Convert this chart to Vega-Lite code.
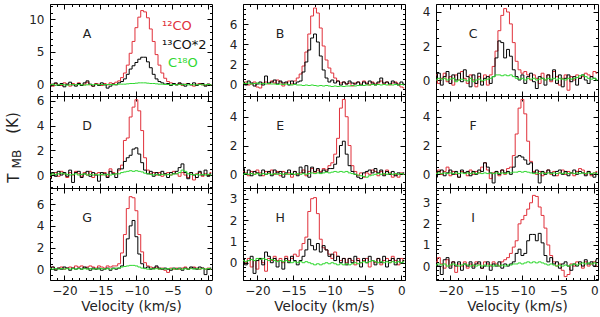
{
"$schema": "https://vega.github.io/schema/vega-lite/v6.json",
"background": "white",
"padding": {"left": 5, "top": 3, "right": 2, "bottom": 2},
"config": {"view": {"stroke": null}, "axis": {"grid": false, "domainColor": "#000", "tickColor": "#000", "domainWidth": 1, "tickWidth": 1, "labelFont": "DejaVu Sans", "labelFontSize": 12, "labelColor": "#222", "labelFlush": false, "labelOverlap": false, "titleFont": "DejaVu Sans", "titleFontSize": 13.5, "titleFontWeight": "normal", "titleColor": "#222", "titlePadding": 3}},
"datasets": {
"A": [
{"v":-22.0,"r":0.1,"b":-0.2,"g":0.0},{"v":-21.6,"r":-0.2,"b":0.1,"g":0.05},{"v":-21.2,"r":0.2,"b":0.3,"g":-0.05},{"v":-20.8,"r":0.0,"b":-0.1,"g":0.0},{"v":-20.4,"r":-0.1,"b":0.2,"g":0.05},{"v":-20.0,"r":0.3,"b":-0.3,"g":0.0},{"v":-19.6,"r":0.1,"b":0.1,"g":-0.05},{"v":-19.2,"r":-0.2,"b":0.4,"g":0.0},{"v":-18.8,"r":0.2,"b":0.0,"g":0.05},{"v":-18.4,"r":0.0,"b":-0.2,"g":0.0},{"v":-18.0,"r":0.3,"b":0.2,"g":0.05},{"v":-17.6,"r":-0.1,"b":-0.1,"g":0.0},{"v":-17.2,"r":0.1,"b":0.3,"g":-0.05},{"v":-16.8,"r":0.4,"b":0.6,"g":0.0},{"v":-16.4,"r":0.0,"b":0.1,"g":0.05},{"v":-16.0,"r":-0.2,"b":-0.2,"g":0.0},{"v":-15.6,"r":0.2,"b":0.1,"g":0.05},{"v":-15.2,"r":0.1,"b":-0.1,"g":0.0},{"v":-14.8,"r":-0.1,"b":0.3,"g":0.05},{"v":-14.4,"r":0.2,"b":0.0,"g":0.0},{"v":-14.0,"r":0.0,"b":-0.5,"g":0.05},{"v":-13.6,"r":0.3,"b":-0.2,"g":0.05},{"v":-13.2,"r":0.2,"b":0.1,"g":0.0},{"v":-12.8,"r":0.4,"b":0.0,"g":0.05},{"v":-12.4,"r":0.6,"b":0.3,"g":0.1},{"v":-12.0,"r":1.1,"b":0.5,"g":0.1},{"v":-11.6,"r":1.8,"b":0.9,"g":0.1},{"v":-11.2,"r":3.0,"b":1.6,"g":0.15},{"v":-10.8,"r":4.8,"b":2.4,"g":0.2},{"v":-10.4,"r":6.6,"b":2.9,"g":0.2},{"v":-10.0,"r":8.7,"b":3.4,"g":0.25},{"v":-9.6,"r":10.3,"b":3.9,"g":0.3},{"v":-9.2,"r":11.3,"b":4.2,"g":0.3},{"v":-8.8,"r":11.1,"b":4.2,"g":0.3},{"v":-8.4,"r":10.2,"b":3.5,"g":0.25},{"v":-8.0,"r":8.5,"b":2.6,"g":0.2},{"v":-7.6,"r":6.6,"b":1.6,"g":0.2},{"v":-7.2,"r":4.6,"b":0.9,"g":0.15},{"v":-6.8,"r":3.0,"b":0.5,"g":0.1},{"v":-6.4,"r":1.8,"b":0.3,"g":0.1},{"v":-6.0,"r":1.0,"b":0.1,"g":0.05},{"v":-5.6,"r":0.5,"b":0.2,"g":0.05},{"v":-5.2,"r":0.3,"b":-0.1,"g":0.0},{"v":-4.8,"r":0.2,"b":0.2,"g":0.05},{"v":-4.4,"r":0.0,"b":0.0,"g":0.0},{"v":-4.0,"r":0.2,"b":0.3,"g":0.05},{"v":-3.6,"r":-0.1,"b":0.1,"g":0.0},{"v":-3.2,"r":0.1,"b":-0.2,"g":0.05},{"v":-2.8,"r":0.2,"b":0.2,"g":0.0},{"v":-2.4,"r":0.0,"b":0.0,"g":0.05},{"v":-2.0,"r":-0.2,"b":0.3,"g":0.0},{"v":-1.6,"r":0.1,"b":-0.1,"g":0.0},{"v":-1.2,"r":0.2,"b":0.1,"g":0.05},{"v":-0.8,"r":0.0,"b":0.2,"g":0.0},{"v":-0.4,"r":-0.1,"b":-0.2,"g":0.0},{"v":0.0,"r":0.1,"b":0.1,"g":0.05},{"v":0.4,"r":0.0,"b":0.0,"g":0.0}
],
"B": [
{"v":-22.0,"r":0.1,"b":0.2,"g":0.1},{"v":-21.6,"r":0.2,"b":-0.1,"g":0.05},{"v":-21.2,"r":-0.1,"b":0.3,"g":0.1},{"v":-20.8,"r":0.0,"b":0.1,"g":0.0},{"v":-20.4,"r":0.2,"b":-0.2,"g":0.05},{"v":-20.0,"r":-0.3,"b":0.0,"g":0.1},{"v":-19.6,"r":-0.4,"b":0.2,"g":0.0},{"v":-19.2,"r":0.1,"b":-0.1,"g":0.05},{"v":-18.8,"r":0.2,"b":0.8,"g":0.0},{"v":-18.4,"r":0.0,"b":0.1,"g":0.05},{"v":-18.0,"r":0.3,"b":0.2,"g":0.0},{"v":-17.6,"r":0.1,"b":0.4,"g":0.0},{"v":-17.2,"r":0.4,"b":0.0,"g":-0.05},{"v":-16.8,"r":0.2,"b":0.3,"g":0.0},{"v":-16.4,"r":-0.2,"b":0.1,"g":-0.05},{"v":-16.0,"r":0.1,"b":0.2,"g":0.0},{"v":-15.6,"r":0.3,"b":-0.1,"g":-0.05},{"v":-15.2,"r":0.0,"b":0.3,"g":-0.1},{"v":-14.8,"r":0.3,"b":0.0,"g":-0.05},{"v":-14.4,"r":0.6,"b":0.2,"g":-0.1},{"v":-14.0,"r":1.0,"b":0.3,"g":-0.1},{"v":-13.6,"r":1.8,"b":1.2,"g":-0.15},{"v":-13.2,"r":3.2,"b":2.2,"g":-0.1},{"v":-12.8,"r":5.0,"b":3.4,"g":-0.15},{"v":-12.4,"r":6.8,"b":4.6,"g":-0.1},{"v":-12.0,"r":7.6,"b":5.0,"g":-0.15},{"v":-11.6,"r":7.1,"b":4.2,"g":-0.2},{"v":-11.2,"r":5.6,"b":2.8,"g":-0.15},{"v":-10.8,"r":3.8,"b":1.4,"g":-0.2},{"v":-10.4,"r":2.4,"b":0.6,"g":-0.15},{"v":-10.0,"r":1.6,"b":0.2,"g":-0.2},{"v":-9.6,"r":1.1,"b":0.4,"g":-0.25},{"v":-9.2,"r":0.6,"b":0.1,"g":-0.2},{"v":-8.8,"r":0.3,"b":0.3,"g":-0.25},{"v":-8.4,"r":0.1,"b":-0.1,"g":-0.2},{"v":-8.0,"r":0.2,"b":0.2,"g":-0.25},{"v":-7.6,"r":0.0,"b":0.0,"g":-0.2},{"v":-7.2,"r":0.1,"b":0.3,"g":-0.2},{"v":-6.8,"r":-0.2,"b":0.1,"g":-0.15},{"v":-6.4,"r":0.1,"b":0.0,"g":-0.2},{"v":-6.0,"r":0.2,"b":0.2,"g":-0.15},{"v":-5.6,"r":0.0,"b":-0.1,"g":-0.1},{"v":-5.2,"r":0.3,"b":0.2,"g":-0.15},{"v":-4.8,"r":0.1,"b":0.0,"g":-0.1},{"v":-4.4,"r":-0.1,"b":0.3,"g":-0.1},{"v":-4.0,"r":0.2,"b":0.1,"g":-0.05},{"v":-3.6,"r":0.0,"b":-0.1,"g":-0.1},{"v":-3.2,"r":0.1,"b":0.2,"g":-0.05},{"v":-2.8,"r":0.3,"b":0.6,"g":-0.1},{"v":-2.4,"r":0.0,"b":0.1,"g":-0.05},{"v":-2.0,"r":0.2,"b":0.2,"g":-0.1},{"v":-1.6,"r":-0.1,"b":0.0,"g":-0.05},{"v":-1.2,"r":0.1,"b":0.3,"g":-0.1},{"v":-0.8,"r":0.2,"b":0.1,"g":-0.05},{"v":-0.4,"r":0.0,"b":-0.1,"g":-0.1},{"v":0.0,"r":-0.3,"b":0.2,"g":-0.05},{"v":0.4,"r":-0.4,"b":0.0,"g":-0.1}
],
"C": [
{"v":-22.0,"r":0.3,"b":0.1,"g":0.0},{"v":-21.6,"r":-0.2,"b":0.4,"g":0.1},{"v":-21.2,"r":0.1,"b":-0.3,"g":0.05},{"v":-20.8,"r":0.4,"b":0.2,"g":0.1},{"v":-20.4,"r":-0.1,"b":0.5,"g":0.0},{"v":-20.0,"r":0.2,"b":-0.2,"g":0.05},{"v":-19.6,"r":-0.3,"b":0.3,"g":0.1},{"v":-19.2,"r":0.3,"b":0.0,"g":-0.1},{"v":-18.8,"r":0.0,"b":0.4,"g":0.0},{"v":-18.4,"r":0.5,"b":-0.1,"g":0.05},{"v":-18.0,"r":0.1,"b":0.6,"g":0.0},{"v":-17.6,"r":-0.2,"b":0.2,"g":-0.05},{"v":-17.2,"r":0.3,"b":-0.4,"g":0.1},{"v":-16.8,"r":0.0,"b":0.3,"g":-0.1},{"v":-16.4,"r":-0.4,"b":-0.2,"g":0.0},{"v":-16.0,"r":0.2,"b":0.4,"g":0.05},{"v":-15.6,"r":-0.1,"b":-0.3,"g":-0.05},{"v":-15.2,"r":0.3,"b":0.1,"g":0.0},{"v":-14.8,"r":-0.3,"b":0.2,"g":0.05},{"v":-14.4,"r":0.3,"b":-0.2,"g":0.1},{"v":-14.0,"r":0.8,"b":0.2,"g":0.2},{"v":-13.6,"r":1.7,"b":1.3,"g":0.3},{"v":-13.2,"r":2.9,"b":2.3,"g":0.3},{"v":-12.8,"r":3.8,"b":2.2,"g":0.25},{"v":-12.4,"r":4.2,"b":1.3,"g":0.3},{"v":-12.0,"r":4.0,"b":1.8,"g":0.25},{"v":-11.6,"r":3.3,"b":1.4,"g":0.3},{"v":-11.2,"r":2.2,"b":0.6,"g":0.2},{"v":-10.8,"r":1.1,"b":0.2,"g":0.1},{"v":-10.4,"r":0.6,"b":0.0,"g":0.05},{"v":-10.0,"r":0.4,"b":0.3,"g":0.1},{"v":-9.6,"r":0.5,"b":-0.2,"g":0.0},{"v":-9.2,"r":0.3,"b":0.2,"g":0.1},{"v":-8.8,"r":0.0,"b":0.4,"g":0.05},{"v":-8.4,"r":0.3,"b":-0.1,"g":0.1},{"v":-8.0,"r":0.1,"b":-0.5,"g":0.0},{"v":-7.6,"r":-0.2,"b":0.2,"g":0.05},{"v":-7.2,"r":0.4,"b":0.1,"g":0.1},{"v":-6.8,"r":0.0,"b":-0.3,"g":0.0},{"v":-6.4,"r":0.3,"b":0.3,"g":0.1},{"v":-6.0,"r":-0.1,"b":0.0,"g":0.05},{"v":-5.6,"r":0.5,"b":0.6,"g":0.1},{"v":-5.2,"r":0.2,"b":-0.2,"g":0.0},{"v":-4.8,"r":-0.3,"b":0.3,"g":0.1},{"v":-4.4,"r":0.1,"b":-0.4,"g":0.05},{"v":-4.0,"r":0.3,"b":0.1,"g":0.0},{"v":-3.6,"r":-0.6,"b":0.3,"g":0.1},{"v":-3.2,"r":0.2,"b":-0.1,"g":0.05},{"v":-2.8,"r":0.0,"b":0.2,"g":0.1},{"v":-2.4,"r":0.3,"b":-0.3,"g":0.15},{"v":-2.0,"r":0.1,"b":0.1,"g":0.25},{"v":-1.6,"r":0.2,"b":0.3,"g":0.3},{"v":-1.2,"r":0.4,"b":0.0,"g":0.2},{"v":-0.8,"r":0.3,"b":-0.2,"g":0.1},{"v":-0.4,"r":0.2,"b":0.2,"g":0.05},{"v":0.0,"r":0.5,"b":0.1,"g":0.1},{"v":0.4,"r":0.4,"b":0.0,"g":0.0}
],
"D": [
{"v":-22.0,"r":-0.2,"b":-0.3,"g":0.0},{"v":-21.6,"r":0.1,"b":0.2,"g":0.1},{"v":-21.2,"r":0.2,"b":-0.1,"g":0.05},{"v":-20.8,"r":-0.1,"b":0.3,"g":0.1},{"v":-20.4,"r":0.3,"b":0.0,"g":0.15},{"v":-20.0,"r":0.1,"b":0.2,"g":0.1},{"v":-19.6,"r":-0.2,"b":-0.1,"g":0.05},{"v":-19.2,"r":0.2,"b":0.4,"g":0.0},{"v":-18.8,"r":0.0,"b":-0.6,"g":0.05},{"v":-18.4,"r":0.3,"b":0.2,"g":0.1},{"v":-18.0,"r":0.1,"b":0.3,"g":0.0},{"v":-17.6,"r":-0.1,"b":-0.2,"g":0.05},{"v":-17.2,"r":0.2,"b":0.1,"g":0.1},{"v":-16.8,"r":0.0,"b":0.3,"g":0.0},{"v":-16.4,"r":0.3,"b":-0.1,"g":0.05},{"v":-16.0,"r":-0.2,"b":0.2,"g":0.0},{"v":-15.6,"r":0.1,"b":0.0,"g":0.05},{"v":-15.2,"r":0.2,"b":-0.5,"g":0.0},{"v":-14.8,"r":0.0,"b":0.2,"g":0.05},{"v":-14.4,"r":0.2,"b":0.1,"g":0.0},{"v":-14.0,"r":-0.1,"b":-0.2,"g":0.05},{"v":-13.6,"r":0.5,"b":0.3,"g":0.0},{"v":-13.2,"r":0.2,"b":0.1,"g":0.05},{"v":-12.8,"r":0.1,"b":-0.2,"g":0.1},{"v":-12.4,"r":0.4,"b":0.5,"g":0.1},{"v":-12.0,"r":0.8,"b":0.5,"g":0.2},{"v":-11.6,"r":2.8,"b":1.1,"g":0.25},{"v":-11.2,"r":3.0,"b":1.4,"g":0.3},{"v":-10.8,"r":4.7,"b":1.6,"g":0.35},{"v":-10.4,"r":5.5,"b":2.1,"g":0.3},{"v":-10.0,"r":6.1,"b":2.2,"g":0.35},{"v":-9.6,"r":5.2,"b":1.7,"g":0.3},{"v":-9.2,"r":3.6,"b":1.0,"g":0.25},{"v":-8.8,"r":1.4,"b":0.4,"g":0.15},{"v":-8.4,"r":0.4,"b":0.1,"g":0.1},{"v":-8.0,"r":0.1,"b":0.3,"g":0.05},{"v":-7.6,"r":0.2,"b":-0.1,"g":0.0},{"v":-7.2,"r":0.0,"b":0.2,"g":0.05},{"v":-6.8,"r":0.2,"b":0.0,"g":0.0},{"v":-6.4,"r":-0.1,"b":0.3,"g":0.05},{"v":-6.0,"r":0.1,"b":0.1,"g":0.0},{"v":-5.6,"r":0.2,"b":-0.2,"g":0.05},{"v":-5.2,"r":0.0,"b":0.2,"g":0.0},{"v":-4.8,"r":0.3,"b":0.1,"g":0.1},{"v":-4.4,"r":0.1,"b":0.3,"g":0.1},{"v":-4.0,"r":-0.1,"b":0.6,"g":0.2},{"v":-3.6,"r":0.2,"b":0.9,"g":0.4},{"v":-3.2,"r":0.0,"b":0.2,"g":0.3},{"v":-2.8,"r":-0.2,"b":-0.3,"g":0.1},{"v":-2.4,"r":0.2,"b":0.2,"g":0.05},{"v":-2.0,"r":-0.4,"b":0.0,"g":0.0},{"v":-1.6,"r":0.1,"b":-0.2,"g":0.05},{"v":-1.2,"r":0.2,"b":0.3,"g":0.0},{"v":-0.8,"r":-0.1,"b":0.0,"g":0.05},{"v":-0.4,"r":0.1,"b":0.4,"g":0.0},{"v":0.0,"r":0.0,"b":-0.1,"g":0.05},{"v":0.4,"r":0.2,"b":0.1,"g":0.0}
],
"E": [
{"v":-22.0,"r":0.2,"b":0.4,"g":0.0},{"v":-21.6,"r":0.1,"b":0.0,"g":0.05},{"v":-21.2,"r":-0.1,"b":0.3,"g":0.0},{"v":-20.8,"r":0.2,"b":-0.1,"g":0.05},{"v":-20.4,"r":0.0,"b":0.2,"g":0.0},{"v":-20.0,"r":0.3,"b":0.1,"g":0.05},{"v":-19.6,"r":0.1,"b":-0.1,"g":0.0},{"v":-19.2,"r":-0.1,"b":0.3,"g":0.05},{"v":-18.8,"r":0.2,"b":0.0,"g":0.0},{"v":-18.4,"r":0.1,"b":0.2,"g":0.05},{"v":-18.0,"r":0.3,"b":-0.1,"g":0.0},{"v":-17.6,"r":0.0,"b":0.3,"g":0.05},{"v":-17.2,"r":0.2,"b":0.1,"g":0.0},{"v":-16.8,"r":-0.1,"b":0.2,"g":0.05},{"v":-16.4,"r":0.2,"b":-0.2,"g":0.0},{"v":-16.0,"r":0.0,"b":0.1,"g":0.05},{"v":-15.6,"r":0.1,"b":0.3,"g":0.0},{"v":-15.2,"r":-0.2,"b":0.0,"g":0.05},{"v":-14.8,"r":0.2,"b":0.2,"g":0.0},{"v":-14.4,"r":0.0,"b":-0.1,"g":0.05},{"v":-14.0,"r":0.1,"b":0.5,"g":0.0},{"v":-13.6,"r":0.3,"b":0.1,"g":0.05},{"v":-13.2,"r":-0.1,"b":0.6,"g":0.0},{"v":-12.8,"r":0.2,"b":-0.2,"g":0.05},{"v":-12.4,"r":0.4,"b":0.5,"g":0.1},{"v":-12.0,"r":0.1,"b":0.2,"g":0.05},{"v":-11.6,"r":0.3,"b":0.4,"g":0.1},{"v":-11.2,"r":0.2,"b":0.1,"g":0.05},{"v":-10.8,"r":0.4,"b":0.3,"g":0.1},{"v":-10.4,"r":0.3,"b":0.2,"g":0.15},{"v":-10.0,"r":0.6,"b":0.4,"g":0.1},{"v":-9.6,"r":0.8,"b":0.4,"g":0.15},{"v":-9.2,"r":1.4,"b":0.7,"g":0.2},{"v":-8.8,"r":2.5,"b":1.2,"g":0.15},{"v":-8.4,"r":4.6,"b":2.0,"g":0.2},{"v":-8.0,"r":5.2,"b":2.3,"g":0.15},{"v":-7.6,"r":4.0,"b":1.4,"g":0.2},{"v":-7.2,"r":2.0,"b":0.6,"g":0.1},{"v":-6.8,"r":0.6,"b":0.2,"g":0.05},{"v":-6.4,"r":0.2,"b":0.0,"g":0.0},{"v":-6.0,"r":-0.1,"b":-0.2,"g":-0.05},{"v":-5.6,"r":0.1,"b":-0.3,"g":-0.1},{"v":-5.2,"r":-0.2,"b":0.1,"g":-0.15},{"v":-4.8,"r":0.1,"b":0.2,"g":-0.2},{"v":-4.4,"r":0.0,"b":0.3,"g":-0.1},{"v":-4.0,"r":0.3,"b":0.1,"g":-0.05},{"v":-3.6,"r":0.2,"b":0.4,"g":0.0},{"v":-3.2,"r":-0.1,"b":0.1,"g":0.05},{"v":-2.8,"r":0.2,"b":0.3,"g":0.0},{"v":-2.4,"r":0.0,"b":-0.1,"g":0.05},{"v":-2.0,"r":0.3,"b":0.2,"g":0.0},{"v":-1.6,"r":0.1,"b":0.0,"g":0.05},{"v":-1.2,"r":-0.2,"b":0.2,"g":0.0},{"v":-0.8,"r":0.0,"b":-0.1,"g":0.05},{"v":-0.4,"r":-0.2,"b":0.1,"g":0.0},{"v":0.0,"r":0.1,"b":0.0,"g":0.05},{"v":0.4,"r":0.0,"b":0.1,"g":0.0}
],
"F": [
{"v":-22.0,"r":0.1,"b":-0.2,"g":0.05},{"v":-21.6,"r":0.3,"b":0.2,"g":0.1},{"v":-21.2,"r":0.0,"b":0.3,"g":0.05},{"v":-20.8,"r":0.2,"b":-0.1,"g":0.1},{"v":-20.4,"r":0.5,"b":0.1,"g":0.05},{"v":-20.0,"r":-0.1,"b":0.3,"g":0.1},{"v":-19.6,"r":0.2,"b":0.0,"g":0.05},{"v":-19.2,"r":0.0,"b":0.2,"g":0.1},{"v":-18.8,"r":-0.2,"b":-0.2,"g":0.05},{"v":-18.4,"r":0.2,"b":0.3,"g":0.1},{"v":-18.0,"r":0.1,"b":0.1,"g":0.05},{"v":-17.6,"r":-0.1,"b":0.2,"g":0.1},{"v":-17.2,"r":0.3,"b":-0.1,"g":0.05},{"v":-16.8,"r":0.0,"b":0.2,"g":0.1},{"v":-16.4,"r":0.2,"b":0.0,"g":0.05},{"v":-16.0,"r":0.1,"b":0.3,"g":0.1},{"v":-15.6,"r":0.5,"b":0.2,"g":0.05},{"v":-15.2,"r":0.8,"b":0.8,"g":0.1},{"v":-14.8,"r":0.3,"b":0.5,"g":0.05},{"v":-14.4,"r":-0.3,"b":0.1,"g":0.1},{"v":-14.0,"r":0.1,"b":-0.6,"g":0.05},{"v":-13.6,"r":0.2,"b":0.2,"g":0.1},{"v":-13.2,"r":-0.1,"b":0.0,"g":0.05},{"v":-12.8,"r":0.3,"b":0.3,"g":0.1},{"v":-12.4,"r":0.0,"b":0.1,"g":0.05},{"v":-12.0,"r":0.4,"b":0.2,"g":0.1},{"v":-11.6,"r":0.5,"b":0.0,"g":0.1},{"v":-11.2,"r":1.3,"b":0.5,"g":0.15},{"v":-10.8,"r":2.8,"b":1.2,"g":0.15},{"v":-10.4,"r":4.6,"b":1.3,"g":0.2},{"v":-10.0,"r":5.2,"b":1.2,"g":0.15},{"v":-9.6,"r":4.2,"b":1.0,"g":0.2},{"v":-9.2,"r":2.3,"b":0.7,"g":0.15},{"v":-8.8,"r":0.9,"b":0.8,"g":0.1},{"v":-8.4,"r":0.2,"b":0.1,"g":0.05},{"v":-8.0,"r":0.0,"b":0.3,"g":0.1},{"v":-7.6,"r":0.2,"b":-0.6,"g":0.05},{"v":-7.2,"r":-0.1,"b":0.2,"g":0.1},{"v":-6.8,"r":0.1,"b":0.0,"g":0.05},{"v":-6.4,"r":0.3,"b":0.3,"g":0.1},{"v":-6.0,"r":0.0,"b":0.1,"g":0.05},{"v":-5.6,"r":0.2,"b":-0.1,"g":0.1},{"v":-5.2,"r":-0.1,"b":0.2,"g":0.05},{"v":-4.8,"r":0.1,"b":0.3,"g":0.1},{"v":-4.4,"r":0.3,"b":0.0,"g":0.05},{"v":-4.0,"r":0.0,"b":0.2,"g":0.1},{"v":-3.6,"r":0.2,"b":-0.1,"g":0.05},{"v":-3.2,"r":0.1,"b":0.1,"g":0.1},{"v":-2.8,"r":-0.1,"b":0.3,"g":0.05},{"v":-2.4,"r":0.2,"b":0.0,"g":0.1},{"v":-2.0,"r":0.4,"b":0.2,"g":0.05},{"v":-1.6,"r":0.3,"b":0.1,"g":0.1},{"v":-1.2,"r":0.0,"b":-0.1,"g":0.05},{"v":-0.8,"r":0.2,"b":0.2,"g":0.1},{"v":-0.4,"r":-0.1,"b":0.0,"g":0.05},{"v":0.0,"r":0.1,"b":-0.2,"g":0.1},{"v":0.4,"r":0.2,"b":0.1,"g":0.05}
],
"G": [
{"v":-22.0,"r":0.1,"b":0.0,"g":0.05},{"v":-21.6,"r":0.2,"b":0.2,"g":0.0},{"v":-21.2,"r":0.0,"b":-0.1,"g":0.05},{"v":-20.8,"r":0.1,"b":0.1,"g":0.0},{"v":-20.4,"r":0.2,"b":0.0,"g":0.05},{"v":-20.0,"r":0.0,"b":0.2,"g":0.0},{"v":-19.6,"r":0.1,"b":0.1,"g":0.05},{"v":-19.2,"r":0.2,"b":-0.1,"g":0.0},{"v":-18.8,"r":0.1,"b":0.1,"g":0.05},{"v":-18.4,"r":0.3,"b":0.0,"g":0.0},{"v":-18.0,"r":0.2,"b":0.1,"g":0.05},{"v":-17.6,"r":0.3,"b":0.0,"g":0.0},{"v":-17.2,"r":0.1,"b":0.2,"g":0.05},{"v":-16.8,"r":0.2,"b":0.1,"g":0.0},{"v":-16.4,"r":0.3,"b":-0.1,"g":0.05},{"v":-16.0,"r":0.2,"b":0.1,"g":0.0},{"v":-15.6,"r":0.1,"b":0.0,"g":0.05},{"v":-15.2,"r":0.3,"b":0.1,"g":0.0},{"v":-14.8,"r":0.2,"b":-0.1,"g":0.05},{"v":-14.4,"r":0.1,"b":0.0,"g":0.0},{"v":-14.0,"r":0.3,"b":0.1,"g":0.05},{"v":-13.6,"r":0.2,"b":-0.1,"g":0.0},{"v":-13.2,"r":0.3,"b":0.1,"g":0.05},{"v":-12.8,"r":0.3,"b":0.0,"g":0.1},{"v":-12.4,"r":0.5,"b":0.1,"g":0.1},{"v":-12.0,"r":1.5,"b":0.3,"g":0.2},{"v":-11.6,"r":3.2,"b":1.2,"g":0.25},{"v":-11.2,"r":5.6,"b":2.8,"g":0.3},{"v":-10.8,"r":6.7,"b":4.0,"g":0.35},{"v":-10.4,"r":6.6,"b":4.5,"g":0.35},{"v":-10.0,"r":5.4,"b":3.0,"g":0.3},{"v":-9.6,"r":3.2,"b":1.4,"g":0.2},{"v":-9.2,"r":1.6,"b":0.5,"g":0.1},{"v":-8.8,"r":0.6,"b":0.1,"g":0.05},{"v":-8.4,"r":0.3,"b":0.2,"g":0.0},{"v":-8.0,"r":0.2,"b":0.0,"g":0.05},{"v":-7.6,"r":0.1,"b":0.1,"g":0.0},{"v":-7.2,"r":0.2,"b":0.3,"g":0.05},{"v":-6.8,"r":0.0,"b":0.1,"g":0.0},{"v":-6.4,"r":0.1,"b":0.0,"g":0.05},{"v":-6.0,"r":-0.1,"b":0.1,"g":0.0},{"v":-5.6,"r":-0.3,"b":0.0,"g":0.05},{"v":-5.2,"r":0.1,"b":-0.1,"g":0.0},{"v":-4.8,"r":0.0,"b":0.1,"g":0.05},{"v":-4.4,"r":0.1,"b":0.0,"g":0.0},{"v":-4.0,"r":0.0,"b":0.1,"g":0.05},{"v":-3.6,"r":0.1,"b":-0.1,"g":0.0},{"v":-3.2,"r":0.2,"b":0.1,"g":0.05},{"v":-2.8,"r":0.0,"b":0.0,"g":0.0},{"v":-2.4,"r":0.1,"b":0.2,"g":0.05},{"v":-2.0,"r":0.2,"b":0.1,"g":0.0},{"v":-1.6,"r":0.1,"b":0.0,"g":0.05},{"v":-1.2,"r":0.0,"b":0.2,"g":0.0},{"v":-0.8,"r":0.1,"b":0.1,"g":0.05},{"v":-0.4,"r":0.0,"b":-0.5,"g":0.0},{"v":0.0,"r":0.1,"b":0.0,"g":0.05},{"v":0.4,"r":0.0,"b":0.1,"g":0.0}
],
"H": [
{"v":-22.0,"r":0.1,"b":0.2,"g":0.1},{"v":-21.6,"r":0.0,"b":-0.1,"g":0.05},{"v":-21.2,"r":0.2,"b":0.1,"g":0.1},{"v":-20.8,"r":-0.2,"b":0.3,"g":0.15},{"v":-20.4,"r":0.1,"b":-0.5,"g":0.1},{"v":-20.0,"r":-0.3,"b":0.1,"g":0.2},{"v":-19.6,"r":0.2,"b":0.2,"g":0.15},{"v":-19.2,"r":0.0,"b":-0.1,"g":0.2},{"v":-18.8,"r":-0.4,"b":0.5,"g":0.15},{"v":-18.4,"r":0.2,"b":0.3,"g":0.1},{"v":-18.0,"r":0.1,"b":0.0,"g":0.15},{"v":-17.6,"r":0.3,"b":0.2,"g":0.1},{"v":-17.2,"r":0.1,"b":-0.2,"g":0.05},{"v":-16.8,"r":0.2,"b":0.1,"g":0.1},{"v":-16.4,"r":0.0,"b":-0.3,"g":0.05},{"v":-16.0,"r":0.3,"b":0.2,"g":0.1},{"v":-15.6,"r":0.1,"b":0.0,"g":0.05},{"v":-15.2,"r":0.2,"b":0.3,"g":0.0},{"v":-14.8,"r":0.4,"b":0.1,"g":0.05},{"v":-14.4,"r":0.3,"b":-0.1,"g":0.0},{"v":-14.0,"r":0.6,"b":0.1,"g":0.05},{"v":-13.6,"r":0.9,"b":0.3,"g":0.0},{"v":-13.2,"r":1.2,"b":0.6,"g":0.05},{"v":-12.8,"r":2.4,"b":1.1,"g":0.0},{"v":-12.4,"r":3.0,"b":0.8,"g":-0.05},{"v":-12.0,"r":3.05,"b":0.6,"g":-0.1},{"v":-11.6,"r":2.3,"b":0.9,"g":-0.05},{"v":-11.2,"r":1.1,"b":0.5,"g":-0.1},{"v":-10.8,"r":0.7,"b":0.8,"g":-0.05},{"v":-10.4,"r":0.6,"b":0.6,"g":0.0},{"v":-10.0,"r":0.4,"b":0.3,"g":-0.05},{"v":-9.6,"r":0.2,"b":0.4,"g":0.0},{"v":-9.2,"r":0.5,"b":0.1,"g":-0.05},{"v":-8.8,"r":0.3,"b":0.3,"g":-0.1},{"v":-8.4,"r":0.1,"b":0.0,"g":-0.05},{"v":-8.0,"r":0.2,"b":0.2,"g":-0.1},{"v":-7.6,"r":0.0,"b":-0.1,"g":-0.05},{"v":-7.2,"r":0.2,"b":0.2,"g":-0.1},{"v":-6.8,"r":0.1,"b":0.0,"g":-0.05},{"v":-6.4,"r":-0.1,"b":0.3,"g":0.0},{"v":-6.0,"r":0.2,"b":0.1,"g":-0.05},{"v":-5.6,"r":0.0,"b":-0.2,"g":0.0},{"v":-5.2,"r":0.1,"b":0.2,"g":0.05},{"v":-4.8,"r":0.2,"b":0.0,"g":0.0},{"v":-4.4,"r":-0.2,"b":0.3,"g":0.05},{"v":-4.0,"r":0.1,"b":0.1,"g":0.1},{"v":-3.6,"r":0.0,"b":-0.1,"g":0.05},{"v":-3.2,"r":0.2,"b":0.2,"g":0.0},{"v":-2.8,"r":-0.1,"b":0.0,"g":0.05},{"v":-2.4,"r":0.1,"b":0.3,"g":0.0},{"v":-2.0,"r":0.2,"b":-0.2,"g":0.05},{"v":-1.6,"r":0.0,"b":0.1,"g":0.0},{"v":-1.2,"r":0.3,"b":0.2,"g":0.05},{"v":-0.8,"r":0.1,"b":-0.1,"g":0.0},{"v":-0.4,"r":-0.1,"b":0.2,"g":0.05},{"v":0.0,"r":0.2,"b":0.0,"g":0.0},{"v":0.4,"r":0.1,"b":0.1,"g":0.05}
],
"I": [
{"v":-22.0,"r":0.2,"b":0.1,"g":0.05},{"v":-21.6,"r":0.4,"b":0.0,"g":0.1},{"v":-21.2,"r":0.1,"b":-0.4,"g":0.05},{"v":-20.8,"r":-0.1,"b":0.3,"g":0.1},{"v":-20.4,"r":0.3,"b":0.4,"g":0.0},{"v":-20.0,"r":0.0,"b":-0.1,"g":0.05},{"v":-19.6,"r":0.2,"b":0.2,"g":0.1},{"v":-19.2,"r":-0.3,"b":0.0,"g":0.05},{"v":-18.8,"r":0.1,"b":0.2,"g":0.0},{"v":-18.4,"r":0.0,"b":-0.2,"g":0.05},{"v":-18.0,"r":0.2,"b":0.1,"g":0.1},{"v":-17.6,"r":-0.1,"b":0.0,"g":0.05},{"v":-17.2,"r":0.1,"b":0.2,"g":0.0},{"v":-16.8,"r":0.0,"b":-0.1,"g":0.05},{"v":-16.4,"r":0.2,"b":0.1,"g":0.0},{"v":-16.0,"r":0.1,"b":0.2,"g":0.05},{"v":-15.6,"r":-0.1,"b":-0.1,"g":0.0},{"v":-15.2,"r":0.2,"b":0.0,"g":0.05},{"v":-14.8,"r":0.1,"b":0.2,"g":0.0},{"v":-14.4,"r":0.0,"b":-0.2,"g":0.05},{"v":-14.0,"r":0.2,"b":0.1,"g":0.0},{"v":-13.6,"r":0.1,"b":0.0,"g":0.05},{"v":-13.2,"r":0.0,"b":0.2,"g":0.0},{"v":-12.8,"r":0.2,"b":-0.1,"g":0.05},{"v":-12.4,"r":0.3,"b":0.1,"g":0.0},{"v":-12.0,"r":0.4,"b":0.0,"g":0.05},{"v":-11.6,"r":0.6,"b":0.1,"g":0.05},{"v":-11.2,"r":0.9,"b":0.2,"g":0.1},{"v":-10.8,"r":1.2,"b":0.6,"g":0.1},{"v":-10.4,"r":2.0,"b":0.8,"g":0.15},{"v":-10.0,"r":2.2,"b":0.5,"g":0.1},{"v":-9.6,"r":2.4,"b":0.6,"g":0.15},{"v":-9.2,"r":2.7,"b":1.2,"g":0.2},{"v":-8.8,"r":3.0,"b":1.5,"g":0.15},{"v":-8.4,"r":3.35,"b":1.5,"g":0.2},{"v":-8.0,"r":3.3,"b":1.2,"g":0.15},{"v":-7.6,"r":2.8,"b":1.55,"g":0.2},{"v":-7.2,"r":2.4,"b":1.1,"g":0.15},{"v":-6.8,"r":1.8,"b":0.5,"g":0.1},{"v":-6.4,"r":1.0,"b":0.2,"g":0.05},{"v":-6.0,"r":0.5,"b":0.4,"g":0.1},{"v":-5.6,"r":0.2,"b":0.1,"g":0.05},{"v":-5.2,"r":0.0,"b":0.2,"g":0.0},{"v":-4.8,"r":0.1,"b":-0.1,"g":0.05},{"v":-4.4,"r":-0.2,"b":0.1,"g":0.0},{"v":-4.0,"r":-0.5,"b":0.2,"g":0.05},{"v":-3.6,"r":-0.4,"b":0.0,"g":0.0},{"v":-3.2,"r":0.1,"b":-0.2,"g":0.05},{"v":-2.8,"r":0.0,"b":0.1,"g":0.1},{"v":-2.4,"r":0.2,"b":0.0,"g":0.05},{"v":-2.0,"r":0.1,"b":0.2,"g":0.1},{"v":-1.6,"r":-0.1,"b":0.0,"g":0.15},{"v":-1.2,"r":0.2,"b":0.3,"g":0.1},{"v":-0.8,"r":0.0,"b":0.1,"g":0.15},{"v":-0.4,"r":0.1,"b":0.2,"g":0.1},{"v":0.0,"r":0.2,"b":0.0,"g":0.15},{"v":0.4,"r":0.0,"b":0.3,"g":0.1}
]
},
"columns": 3,
"spacing": {"row": 0, "column": 31},
"bounds": "flush",
"align": "all",
"concat": [
{"width": 162, "height": 92, "data": {"name": "A"},
 "layer": [
  {"mark": {"type": "line", "interpolate": "step", "color": "#e0303a", "strokeWidth": 1, "clip": true},
   "encoding": {"x": {"field": "v", "type": "quantitative", "scale": {"domain": [-22, 0.5], "nice": false, "zero": false}, "axis": {"orient": "bottom", "values": [-20,-15,-10,-5,0], "tickSize": -5, "labels": false, "title": null}},
    "y": {"field": "r", "type": "quantitative", "scale": {"domain": [-1.7, 12.3], "nice": false, "zero": false}, "axis": {"orient": "left", "values": [0,5,10], "tickSize": -5, "labelPadding": 11, "title": null}}}},
  {"mark": {"type": "line", "interpolate": "step", "color": "#000000", "strokeWidth": 1, "clip": true},
   "encoding": {"x": {"field": "v", "type": "quantitative", "scale": {"domain": [-22, 0.5], "nice": false, "zero": false}, "axis": {"orient": "bottom", "values": [-22,-21,-20,-19,-18,-17,-16,-15,-14,-13,-12,-11,-10,-9,-8,-7,-6,-5,-4,-3,-2,-1,0], "tickSize": -2.5, "labels": false, "domain": false, "title": null}},
    "y": {"field": "b", "type": "quantitative", "scale": {"domain": [-1.7, 12.3], "nice": false, "zero": false}, "axis": {"orient": "left", "values": [-1,0,1,2,3,4,5,6,7,8,9,10,11,12], "tickSize": -2.5, "labels": false, "domain": false, "title": null}}}},
  {"mark": {"type": "line", "interpolate": "step", "color": "#2fd82f", "strokeWidth": 1, "clip": true},
   "encoding": {"x": {"field": "v", "type": "quantitative", "scale": {"domain": [-22, 0.5], "nice": false, "zero": false}, "axis": {"orient": "top", "values": [-20,-15,-10,-5,0], "tickSize": -5, "labels": false, "title": null}},
    "y": {"field": "g", "type": "quantitative", "scale": {"domain": [-1.7, 12.3], "nice": false, "zero": false}, "axis": {"orient": "right", "values": [0,5,10], "tickSize": -5, "labels": false, "title": null}}}},
  {"data": {"values": [{}]}, "mark": {"type": "text", "font": "DejaVu Sans", "fontSize": 12.5, "color": "#222", "align": "center", "baseline": "middle"},
   "encoding": {"text": {"value": "A"}, "x": {"datum": -16.85, "type": "quantitative", "scale": {"domain": [-22, 0.5], "nice": false, "zero": false}, "axis": {"orient": "top", "values": [-22,-21,-20,-19,-18,-17,-16,-15,-14,-13,-12,-11,-10,-9,-8,-7,-6,-5,-4,-3,-2,-1,0], "tickSize": -2.5, "labels": false, "domain": false, "title": null}},
    "y": {"datum": 7.73, "type": "quantitative", "scale": {"domain": [-1.7, 12.3], "nice": false, "zero": false}, "axis": {"orient": "right", "values": [-1,0,1,2,3,4,5,6,7,8,9,10,11,12], "tickSize": -2.5, "labels": false, "domain": false, "title": null}}}},
  {"data": {"values": [{}]}, "mark": {"type": "text", "font": "DejaVu Sans", "fontSize": 13, "color": "#e0303a", "align": "left", "baseline": "alphabetic"},
   "encoding": {"text": {"value": "¹²CO"}, "x": {"datum": -6.44, "type": "quantitative", "scale": {"domain": [-22, 0.5], "nice": false, "zero": false}, "axis": null},
    "y": {"datum": 8.3, "type": "quantitative", "scale": {"domain": [-1.7, 12.3], "nice": false, "zero": false}, "axis": null}}},
  {"data": {"values": [{}]}, "mark": {"type": "text", "font": "DejaVu Sans", "fontSize": 13, "color": "#111", "align": "left", "baseline": "alphabetic"},
   "encoding": {"text": {"value": "¹³CO*2"}, "x": {"datum": -6.44, "type": "quantitative", "scale": {"domain": [-22, 0.5], "nice": false, "zero": false}, "axis": null},
    "y": {"datum": 5.41, "type": "quantitative", "scale": {"domain": [-1.7, 12.3], "nice": false, "zero": false}, "axis": null}}},
  {"data": {"values": [{}]}, "mark": {"type": "text", "font": "DejaVu Sans", "fontSize": 13, "color": "#2fd82f", "align": "left", "baseline": "alphabetic"},
   "encoding": {"text": {"value": "C¹⁸O"}, "x": {"datum": -5.6, "type": "quantitative", "scale": {"domain": [-22, 0.5], "nice": false, "zero": false}, "axis": null},
    "y": {"datum": 2.76, "type": "quantitative", "scale": {"domain": [-1.7, 12.3], "nice": false, "zero": false}, "axis": null}}}
 ],
 "resolve": {"axis": {"x": "independent", "y": "independent"}}
},
{"width": 162, "height": 92, "data": {"name": "B"},
 "layer": [
  {"mark": {"type": "line", "interpolate": "step", "color": "#e0303a", "strokeWidth": 1, "clip": true},
   "encoding": {"x": {"field": "v", "type": "quantitative", "scale": {"domain": [-22, 0.5], "nice": false, "zero": false}, "axis": {"orient": "bottom", "values": [-20,-15,-10,-5,0], "tickSize": -5, "labels": false, "title": null}},
    "y": {"field": "r", "type": "quantitative", "scale": {"domain": [-1.2, 8.0], "nice": false, "zero": false}, "axis": {"orient": "left", "values": [0,2,4,6], "tickSize": -5, "labelPadding": 11, "title": null}}}},
  {"mark": {"type": "line", "interpolate": "step", "color": "#000000", "strokeWidth": 1, "clip": true},
   "encoding": {"x": {"field": "v", "type": "quantitative", "scale": {"domain": [-22, 0.5], "nice": false, "zero": false}, "axis": {"orient": "bottom", "values": [-22,-21,-20,-19,-18,-17,-16,-15,-14,-13,-12,-11,-10,-9,-8,-7,-6,-5,-4,-3,-2,-1,0], "tickSize": -2.5, "labels": false, "domain": false, "title": null}},
    "y": {"field": "b", "type": "quantitative", "scale": {"domain": [-1.2, 8.0], "nice": false, "zero": false}, "axis": {"orient": "left", "values": [-1,-0.5,0,0.5,1,1.5,2,2.5,3,3.5,4,4.5,5,5.5,6,6.5,7,7.5], "tickSize": -2.5, "labels": false, "domain": false, "title": null}}}},
  {"mark": {"type": "line", "interpolate": "step", "color": "#2fd82f", "strokeWidth": 1, "clip": true},
   "encoding": {"x": {"field": "v", "type": "quantitative", "scale": {"domain": [-22, 0.5], "nice": false, "zero": false}, "axis": {"orient": "top", "values": [-20,-15,-10,-5,0], "tickSize": -5, "labels": false, "title": null}},
    "y": {"field": "g", "type": "quantitative", "scale": {"domain": [-1.2, 8.0], "nice": false, "zero": false}, "axis": {"orient": "right", "values": [0,2,4,6], "tickSize": -5, "labels": false, "title": null}}}},
  {"data": {"values": [{}]}, "mark": {"type": "text", "font": "DejaVu Sans", "fontSize": 12.5, "color": "#222", "align": "center", "baseline": "middle"},
   "encoding": {"text": {"value": "B"}, "x": {"datum": -16.85, "type": "quantitative", "scale": {"domain": [-22, 0.5], "nice": false, "zero": false}, "axis": {"orient": "top", "values": [-22,-21,-20,-19,-18,-17,-16,-15,-14,-13,-12,-11,-10,-9,-8,-7,-6,-5,-4,-3,-2,-1,0], "tickSize": -2.5, "labels": false, "domain": false, "title": null}},
    "y": {"datum": 5.0, "type": "quantitative", "scale": {"domain": [-1.2, 8.0], "nice": false, "zero": false}, "axis": {"orient": "right", "values": [-1,-0.5,0,0.5,1,1.5,2,2.5,3,3.5,4,4.5,5,5.5,6,6.5,7,7.5], "tickSize": -2.5, "labels": false, "domain": false, "title": null}}}}
 ],
 "resolve": {"axis": {"x": "independent", "y": "independent"}}
},
{"width": 162, "height": 92, "data": {"name": "C"},
 "layer": [
  {"mark": {"type": "line", "interpolate": "step", "color": "#e0303a", "strokeWidth": 1, "clip": true},
   "encoding": {"x": {"field": "v", "type": "quantitative", "scale": {"domain": [-22, 0.5], "nice": false, "zero": false}, "axis": {"orient": "bottom", "values": [-20,-15,-10,-5,0], "tickSize": -5, "labels": false, "title": null}},
    "y": {"field": "r", "type": "quantitative", "scale": {"domain": [-0.94, 4.47], "nice": false, "zero": false}, "axis": {"orient": "left", "values": [0,2,4], "tickSize": -5, "labelPadding": 11, "title": null}}}},
  {"mark": {"type": "line", "interpolate": "step", "color": "#000000", "strokeWidth": 1, "clip": true},
   "encoding": {"x": {"field": "v", "type": "quantitative", "scale": {"domain": [-22, 0.5], "nice": false, "zero": false}, "axis": {"orient": "bottom", "values": [-22,-21,-20,-19,-18,-17,-16,-15,-14,-13,-12,-11,-10,-9,-8,-7,-6,-5,-4,-3,-2,-1,0], "tickSize": -2.5, "labels": false, "domain": false, "title": null}},
    "y": {"field": "b", "type": "quantitative", "scale": {"domain": [-0.94, 4.47], "nice": false, "zero": false}, "axis": {"orient": "left", "values": [-0.5,0,0.5,1,1.5,2,2.5,3,3.5,4], "tickSize": -2.5, "labels": false, "domain": false, "title": null}}}},
  {"mark": {"type": "line", "interpolate": "step", "color": "#2fd82f", "strokeWidth": 1, "clip": true},
   "encoding": {"x": {"field": "v", "type": "quantitative", "scale": {"domain": [-22, 0.5], "nice": false, "zero": false}, "axis": {"orient": "top", "values": [-20,-15,-10,-5,0], "tickSize": -5, "labels": false, "title": null}},
    "y": {"field": "g", "type": "quantitative", "scale": {"domain": [-0.94, 4.47], "nice": false, "zero": false}, "axis": {"orient": "right", "values": [0,2,4], "tickSize": -5, "labels": false, "title": null}}}},
  {"data": {"values": [{}]}, "mark": {"type": "text", "font": "DejaVu Sans", "fontSize": 12.5, "color": "#222", "align": "center", "baseline": "middle"},
   "encoding": {"text": {"value": "C"}, "x": {"datum": -16.85, "type": "quantitative", "scale": {"domain": [-22, 0.5], "nice": false, "zero": false}, "axis": {"orient": "top", "values": [-22,-21,-20,-19,-18,-17,-16,-15,-14,-13,-12,-11,-10,-9,-8,-7,-6,-5,-4,-3,-2,-1,0], "tickSize": -2.5, "labels": false, "domain": false, "title": null}},
    "y": {"datum": 2.71, "type": "quantitative", "scale": {"domain": [-0.94, 4.47], "nice": false, "zero": false}, "axis": {"orient": "right", "values": [-0.5,0,0.5,1,1.5,2,2.5,3,3.5,4], "tickSize": -2.5, "labels": false, "domain": false, "title": null}}}}
 ],
 "resolve": {"axis": {"x": "independent", "y": "independent"}}
},
{"width": 162, "height": 92, "data": {"name": "D"},
 "layer": [
  {"mark": {"type": "line", "interpolate": "step", "color": "#e0303a", "strokeWidth": 1, "clip": true},
   "encoding": {"x": {"field": "v", "type": "quantitative", "scale": {"domain": [-22, 0.5], "nice": false, "zero": false}, "axis": {"orient": "bottom", "values": [-20,-15,-10,-5,0], "tickSize": -5, "labels": false, "title": null}},
    "y": {"field": "r", "type": "quantitative", "scale": {"domain": [-1.05, 6.4], "nice": false, "zero": false}, "axis": {"orient": "left", "values": [0,2,4,6], "tickSize": -5, "labelPadding": 11, "title": null}}}},
  {"mark": {"type": "line", "interpolate": "step", "color": "#000000", "strokeWidth": 1, "clip": true},
   "encoding": {"x": {"field": "v", "type": "quantitative", "scale": {"domain": [-22, 0.5], "nice": false, "zero": false}, "axis": {"orient": "bottom", "values": [-22,-21,-20,-19,-18,-17,-16,-15,-14,-13,-12,-11,-10,-9,-8,-7,-6,-5,-4,-3,-2,-1,0], "tickSize": -2.5, "labels": false, "domain": false, "title": null}},
    "y": {"field": "b", "type": "quantitative", "scale": {"domain": [-1.05, 6.4], "nice": false, "zero": false}, "axis": {"orient": "left", "values": [-1,-0.5,0,0.5,1,1.5,2,2.5,3,3.5,4,4.5,5,5.5,6], "tickSize": -2.5, "labels": false, "domain": false, "title": null}}}},
  {"mark": {"type": "line", "interpolate": "step", "color": "#2fd82f", "strokeWidth": 1, "clip": true},
   "encoding": {"x": {"field": "v", "type": "quantitative", "scale": {"domain": [-22, 0.5], "nice": false, "zero": false}, "axis": {"orient": "top", "values": [-20,-15,-10,-5,0], "tickSize": -5, "labels": false, "title": null}},
    "y": {"field": "g", "type": "quantitative", "scale": {"domain": [-1.05, 6.4], "nice": false, "zero": false}, "axis": {"orient": "right", "values": [0,2,4,6], "tickSize": -5, "labels": false, "title": null}}}},
  {"data": {"values": [{}]}, "mark": {"type": "text", "font": "DejaVu Sans", "fontSize": 12.5, "color": "#222", "align": "center", "baseline": "middle"},
   "encoding": {"text": {"value": "D"}, "x": {"datum": -16.85, "type": "quantitative", "scale": {"domain": [-22, 0.5], "nice": false, "zero": false}, "axis": {"orient": "top", "values": [-22,-21,-20,-19,-18,-17,-16,-15,-14,-13,-12,-11,-10,-9,-8,-7,-6,-5,-4,-3,-2,-1,0], "tickSize": -2.5, "labels": false, "domain": false, "title": null}},
    "y": {"datum": 3.97, "type": "quantitative", "scale": {"domain": [-1.05, 6.4], "nice": false, "zero": false}, "axis": {"orient": "right", "values": [-1,-0.5,0,0.5,1,1.5,2,2.5,3,3.5,4,4.5,5,5.5,6], "tickSize": -2.5, "labels": false, "domain": false, "title": null}}}},
  {"data": {"values": [{}]}, "mark": {"type": "text", "font": "DejaVu Sans", "fontSize": 15, "color": "#222", "align": "center", "baseline": "middle", "angle": 270},
   "encoding": {"text": {"value": "T"}, "x": {"datum": -27.04, "type": "quantitative", "scale": {"domain": [-22, 0.5], "nice": false, "zero": false}, "axis": null},
    "y": {"datum": -0.25, "type": "quantitative", "scale": {"domain": [-1.05, 6.4], "nice": false, "zero": false}, "axis": null}}},
  {"data": {"values": [{}]}, "mark": {"type": "text", "font": "DejaVu Sans", "fontSize": 12, "color": "#222", "align": "center", "baseline": "middle", "angle": 270},
   "encoding": {"text": {"value": "MB"}, "x": {"datum": -26.6, "type": "quantitative", "scale": {"domain": [-22, 0.5], "nice": false, "zero": false}, "axis": null},
    "y": {"datum": 1.29, "type": "quantitative", "scale": {"domain": [-1.05, 6.4], "nice": false, "zero": false}, "axis": null}}},
  {"data": {"values": [{}]}, "mark": {"type": "text", "font": "DejaVu Sans", "fontSize": 15, "color": "#222", "align": "center", "baseline": "middle", "angle": 270},
   "encoding": {"text": {"value": "(K)"}, "x": {"datum": -27.14, "type": "quantitative", "scale": {"domain": [-22, 0.5], "nice": false, "zero": false}, "axis": null},
    "y": {"datum": 4.21, "type": "quantitative", "scale": {"domain": [-1.05, 6.4], "nice": false, "zero": false}, "axis": null}}}
 ],
 "resolve": {"axis": {"x": "independent", "y": "independent"}}
},
{"width": 162, "height": 92, "data": {"name": "E"},
 "layer": [
  {"mark": {"type": "line", "interpolate": "step", "color": "#e0303a", "strokeWidth": 1, "clip": true},
   "encoding": {"x": {"field": "v", "type": "quantitative", "scale": {"domain": [-22, 0.5], "nice": false, "zero": false}, "axis": {"orient": "bottom", "values": [-20,-15,-10,-5,0], "tickSize": -5, "labels": false, "title": null}},
    "y": {"field": "r", "type": "quantitative", "scale": {"domain": [-0.95, 5.44], "nice": false, "zero": false}, "axis": {"orient": "left", "values": [0,2,4], "tickSize": -5, "labelPadding": 11, "title": null}}}},
  {"mark": {"type": "line", "interpolate": "step", "color": "#000000", "strokeWidth": 1, "clip": true},
   "encoding": {"x": {"field": "v", "type": "quantitative", "scale": {"domain": [-22, 0.5], "nice": false, "zero": false}, "axis": {"orient": "bottom", "values": [-22,-21,-20,-19,-18,-17,-16,-15,-14,-13,-12,-11,-10,-9,-8,-7,-6,-5,-4,-3,-2,-1,0], "tickSize": -2.5, "labels": false, "domain": false, "title": null}},
    "y": {"field": "b", "type": "quantitative", "scale": {"domain": [-0.95, 5.44], "nice": false, "zero": false}, "axis": {"orient": "left", "values": [-0.5,0,0.5,1,1.5,2,2.5,3,3.5,4,4.5,5], "tickSize": -2.5, "labels": false, "domain": false, "title": null}}}},
  {"mark": {"type": "line", "interpolate": "step", "color": "#2fd82f", "strokeWidth": 1, "clip": true},
   "encoding": {"x": {"field": "v", "type": "quantitative", "scale": {"domain": [-22, 0.5], "nice": false, "zero": false}, "axis": {"orient": "top", "values": [-20,-15,-10,-5,0], "tickSize": -5, "labels": false, "title": null}},
    "y": {"field": "g", "type": "quantitative", "scale": {"domain": [-0.95, 5.44], "nice": false, "zero": false}, "axis": {"orient": "right", "values": [0,2,4], "tickSize": -5, "labels": false, "title": null}}}},
  {"data": {"values": [{}]}, "mark": {"type": "text", "font": "DejaVu Sans", "fontSize": 12.5, "color": "#222", "align": "center", "baseline": "middle"},
   "encoding": {"text": {"value": "E"}, "x": {"datum": -16.85, "type": "quantitative", "scale": {"domain": [-22, 0.5], "nice": false, "zero": false}, "axis": {"orient": "top", "values": [-22,-21,-20,-19,-18,-17,-16,-15,-14,-13,-12,-11,-10,-9,-8,-7,-6,-5,-4,-3,-2,-1,0], "tickSize": -2.5, "labels": false, "domain": false, "title": null}},
    "y": {"datum": 3.36, "type": "quantitative", "scale": {"domain": [-0.95, 5.44], "nice": false, "zero": false}, "axis": {"orient": "right", "values": [-0.5,0,0.5,1,1.5,2,2.5,3,3.5,4,4.5,5], "tickSize": -2.5, "labels": false, "domain": false, "title": null}}}}
 ],
 "resolve": {"axis": {"x": "independent", "y": "independent"}}
},
{"width": 162, "height": 92, "data": {"name": "F"},
 "layer": [
  {"mark": {"type": "line", "interpolate": "step", "color": "#e0303a", "strokeWidth": 1, "clip": true},
   "encoding": {"x": {"field": "v", "type": "quantitative", "scale": {"domain": [-22, 0.5], "nice": false, "zero": false}, "axis": {"orient": "bottom", "values": [-20,-15,-10,-5,0], "tickSize": -5, "labels": false, "title": null}},
    "y": {"field": "r", "type": "quantitative", "scale": {"domain": [-0.95, 5.44], "nice": false, "zero": false}, "axis": {"orient": "left", "values": [0,2,4], "tickSize": -5, "labelPadding": 11, "title": null}}}},
  {"mark": {"type": "line", "interpolate": "step", "color": "#000000", "strokeWidth": 1, "clip": true},
   "encoding": {"x": {"field": "v", "type": "quantitative", "scale": {"domain": [-22, 0.5], "nice": false, "zero": false}, "axis": {"orient": "bottom", "values": [-22,-21,-20,-19,-18,-17,-16,-15,-14,-13,-12,-11,-10,-9,-8,-7,-6,-5,-4,-3,-2,-1,0], "tickSize": -2.5, "labels": false, "domain": false, "title": null}},
    "y": {"field": "b", "type": "quantitative", "scale": {"domain": [-0.95, 5.44], "nice": false, "zero": false}, "axis": {"orient": "left", "values": [-0.5,0,0.5,1,1.5,2,2.5,3,3.5,4,4.5,5], "tickSize": -2.5, "labels": false, "domain": false, "title": null}}}},
  {"mark": {"type": "line", "interpolate": "step", "color": "#2fd82f", "strokeWidth": 1, "clip": true},
   "encoding": {"x": {"field": "v", "type": "quantitative", "scale": {"domain": [-22, 0.5], "nice": false, "zero": false}, "axis": {"orient": "top", "values": [-20,-15,-10,-5,0], "tickSize": -5, "labels": false, "title": null}},
    "y": {"field": "g", "type": "quantitative", "scale": {"domain": [-0.95, 5.44], "nice": false, "zero": false}, "axis": {"orient": "right", "values": [0,2,4], "tickSize": -5, "labels": false, "title": null}}}},
  {"data": {"values": [{}]}, "mark": {"type": "text", "font": "DejaVu Sans", "fontSize": 12.5, "color": "#222", "align": "center", "baseline": "middle"},
   "encoding": {"text": {"value": "F"}, "x": {"datum": -16.85, "type": "quantitative", "scale": {"domain": [-22, 0.5], "nice": false, "zero": false}, "axis": {"orient": "top", "values": [-22,-21,-20,-19,-18,-17,-16,-15,-14,-13,-12,-11,-10,-9,-8,-7,-6,-5,-4,-3,-2,-1,0], "tickSize": -2.5, "labels": false, "domain": false, "title": null}},
    "y": {"datum": 3.36, "type": "quantitative", "scale": {"domain": [-0.95, 5.44], "nice": false, "zero": false}, "axis": {"orient": "right", "values": [-0.5,0,0.5,1,1.5,2,2.5,3,3.5,4,4.5,5], "tickSize": -2.5, "labels": false, "domain": false, "title": null}}}}
 ],
 "resolve": {"axis": {"x": "independent", "y": "independent"}}
},
{"width": 162, "height": 92, "data": {"name": "G"},
 "layer": [
  {"mark": {"type": "line", "interpolate": "step", "color": "#e0303a", "strokeWidth": 1, "clip": true},
   "encoding": {"x": {"field": "v", "type": "quantitative", "scale": {"domain": [-22, 0.5], "nice": false, "zero": false}, "axis": {"orient": "bottom", "values": [-20,-15,-10,-5,0], "tickSize": -5, "labels": true, "labelPadding": 10, "title": "Velocity (km/s)"}},
    "y": {"field": "r", "type": "quantitative", "scale": {"domain": [-1, 7.5], "nice": false, "zero": false}, "axis": {"orient": "left", "values": [0,2,4,6], "tickSize": -5, "labelPadding": 11, "title": null}}}},
  {"mark": {"type": "line", "interpolate": "step", "color": "#000000", "strokeWidth": 1, "clip": true},
   "encoding": {"x": {"field": "v", "type": "quantitative", "scale": {"domain": [-22, 0.5], "nice": false, "zero": false}, "axis": {"orient": "bottom", "values": [-22,-21,-20,-19,-18,-17,-16,-15,-14,-13,-12,-11,-10,-9,-8,-7,-6,-5,-4,-3,-2,-1,0], "tickSize": -2.5, "labels": false, "domain": false, "title": null}},
    "y": {"field": "b", "type": "quantitative", "scale": {"domain": [-1, 7.5], "nice": false, "zero": false}, "axis": {"orient": "left", "values": [-0.5,0,0.5,1,1.5,2,2.5,3,3.5,4,4.5,5,5.5,6,6.5,7], "tickSize": -2.5, "labels": false, "domain": false, "title": null}}}},
  {"mark": {"type": "line", "interpolate": "step", "color": "#2fd82f", "strokeWidth": 1, "clip": true},
   "encoding": {"x": {"field": "v", "type": "quantitative", "scale": {"domain": [-22, 0.5], "nice": false, "zero": false}, "axis": {"orient": "top", "values": [-20,-15,-10,-5,0], "tickSize": -5, "labels": false, "title": null}},
    "y": {"field": "g", "type": "quantitative", "scale": {"domain": [-1, 7.5], "nice": false, "zero": false}, "axis": {"orient": "right", "values": [0,2,4,6], "tickSize": -5, "labels": false, "title": null}}}},
  {"data": {"values": [{}]}, "mark": {"type": "text", "font": "DejaVu Sans", "fontSize": 12.5, "color": "#222", "align": "center", "baseline": "middle"},
   "encoding": {"text": {"value": "G"}, "x": {"datum": -16.85, "type": "quantitative", "scale": {"domain": [-22, 0.5], "nice": false, "zero": false}, "axis": {"orient": "top", "values": [-22,-21,-20,-19,-18,-17,-16,-15,-14,-13,-12,-11,-10,-9,-8,-7,-6,-5,-4,-3,-2,-1,0], "tickSize": -2.5, "labels": false, "domain": false, "title": null}},
    "y": {"datum": 4.73, "type": "quantitative", "scale": {"domain": [-1, 7.5], "nice": false, "zero": false}, "axis": {"orient": "right", "values": [-0.5,0,0.5,1,1.5,2,2.5,3,3.5,4,4.5,5,5.5,6,6.5,7], "tickSize": -2.5, "labels": false, "domain": false, "title": null}}}}
 ],
 "resolve": {"axis": {"x": "independent", "y": "independent"}}
},
{"width": 162, "height": 92, "data": {"name": "H"},
 "layer": [
  {"mark": {"type": "line", "interpolate": "step", "color": "#e0303a", "strokeWidth": 1, "clip": true},
   "encoding": {"x": {"field": "v", "type": "quantitative", "scale": {"domain": [-22, 0.5], "nice": false, "zero": false}, "axis": {"orient": "bottom", "values": [-20,-15,-10,-5,0], "tickSize": -5, "labels": true, "labelPadding": 10, "title": "Velocity (km/s)"}},
    "y": {"field": "r", "type": "quantitative", "scale": {"domain": [-0.81, 3.5], "nice": false, "zero": false}, "axis": {"orient": "left", "values": [0,1,2,3], "tickSize": -5, "labelPadding": 11, "title": null}}}},
  {"mark": {"type": "line", "interpolate": "step", "color": "#000000", "strokeWidth": 1, "clip": true},
   "encoding": {"x": {"field": "v", "type": "quantitative", "scale": {"domain": [-22, 0.5], "nice": false, "zero": false}, "axis": {"orient": "bottom", "values": [-22,-21,-20,-19,-18,-17,-16,-15,-14,-13,-12,-11,-10,-9,-8,-7,-6,-5,-4,-3,-2,-1,0], "tickSize": -2.5, "labels": false, "domain": false, "title": null}},
    "y": {"field": "b", "type": "quantitative", "scale": {"domain": [-0.81, 3.5], "nice": false, "zero": false}, "axis": {"orient": "left", "values": [-0.8,-0.6,-0.4,-0.2,0,0.2,0.4,0.6,0.8,1,1.2,1.4,1.6,1.8,2,2.2,2.4,2.6,2.8,3,3.2,3.4], "tickSize": -2.5, "labels": false, "domain": false, "title": null}}}},
  {"mark": {"type": "line", "interpolate": "step", "color": "#2fd82f", "strokeWidth": 1, "clip": true},
   "encoding": {"x": {"field": "v", "type": "quantitative", "scale": {"domain": [-22, 0.5], "nice": false, "zero": false}, "axis": {"orient": "top", "values": [-20,-15,-10,-5,0], "tickSize": -5, "labels": false, "title": null}},
    "y": {"field": "g", "type": "quantitative", "scale": {"domain": [-0.81, 3.5], "nice": false, "zero": false}, "axis": {"orient": "right", "values": [0,1,2,3], "tickSize": -5, "labels": false, "title": null}}}},
  {"data": {"values": [{}]}, "mark": {"type": "text", "font": "DejaVu Sans", "fontSize": 12.5, "color": "#222", "align": "center", "baseline": "middle"},
   "encoding": {"text": {"value": "H"}, "x": {"datum": -16.85, "type": "quantitative", "scale": {"domain": [-22, 0.5], "nice": false, "zero": false}, "axis": {"orient": "top", "values": [-22,-21,-20,-19,-18,-17,-16,-15,-14,-13,-12,-11,-10,-9,-8,-7,-6,-5,-4,-3,-2,-1,0], "tickSize": -2.5, "labels": false, "domain": false, "title": null}},
    "y": {"datum": 2.09, "type": "quantitative", "scale": {"domain": [-0.81, 3.5], "nice": false, "zero": false}, "axis": {"orient": "right", "values": [-0.8,-0.6,-0.4,-0.2,0,0.2,0.4,0.6,0.8,1,1.2,1.4,1.6,1.8,2,2.2,2.4,2.6,2.8,3,3.2,3.4], "tickSize": -2.5, "labels": false, "domain": false, "title": null}}}}
 ],
 "resolve": {"axis": {"x": "independent", "y": "independent"}}
},
{"width": 162, "height": 92, "data": {"name": "I"},
 "layer": [
  {"mark": {"type": "line", "interpolate": "step", "color": "#e0303a", "strokeWidth": 1, "clip": true},
   "encoding": {"x": {"field": "v", "type": "quantitative", "scale": {"domain": [-22, 0.5], "nice": false, "zero": false}, "axis": {"orient": "bottom", "values": [-20,-15,-10,-5,0], "tickSize": -5, "labels": true, "labelPadding": 10, "title": "Velocity (km/s)"}},
    "y": {"field": "r", "type": "quantitative", "scale": {"domain": [-0.66, 3.7], "nice": false, "zero": false}, "axis": {"orient": "left", "values": [0,1,2,3], "tickSize": -5, "labelPadding": 11, "title": null}}}},
  {"mark": {"type": "line", "interpolate": "step", "color": "#000000", "strokeWidth": 1, "clip": true},
   "encoding": {"x": {"field": "v", "type": "quantitative", "scale": {"domain": [-22, 0.5], "nice": false, "zero": false}, "axis": {"orient": "bottom", "values": [-22,-21,-20,-19,-18,-17,-16,-15,-14,-13,-12,-11,-10,-9,-8,-7,-6,-5,-4,-3,-2,-1,0], "tickSize": -2.5, "labels": false, "domain": false, "title": null}},
    "y": {"field": "b", "type": "quantitative", "scale": {"domain": [-0.66, 3.7], "nice": false, "zero": false}, "axis": {"orient": "left", "values": [-0.6,-0.4,-0.2,0,0.2,0.4,0.6,0.8,1,1.2,1.4,1.6,1.8,2,2.2,2.4,2.6,2.8,3,3.2,3.4,3.6], "tickSize": -2.5, "labels": false, "domain": false, "title": null}}}},
  {"mark": {"type": "line", "interpolate": "step", "color": "#2fd82f", "strokeWidth": 1, "clip": true},
   "encoding": {"x": {"field": "v", "type": "quantitative", "scale": {"domain": [-22, 0.5], "nice": false, "zero": false}, "axis": {"orient": "top", "values": [-20,-15,-10,-5,0], "tickSize": -5, "labels": false, "title": null}},
    "y": {"field": "g", "type": "quantitative", "scale": {"domain": [-0.66, 3.7], "nice": false, "zero": false}, "axis": {"orient": "right", "values": [0,1,2,3], "tickSize": -5, "labels": false, "title": null}}}},
  {"data": {"values": [{}]}, "mark": {"type": "text", "font": "DejaVu Sans", "fontSize": 12.5, "color": "#222", "align": "center", "baseline": "middle"},
   "encoding": {"text": {"value": "I"}, "x": {"datum": -16.85, "type": "quantitative", "scale": {"domain": [-22, 0.5], "nice": false, "zero": false}, "axis": {"orient": "top", "values": [-22,-21,-20,-19,-18,-17,-16,-15,-14,-13,-12,-11,-10,-9,-8,-7,-6,-5,-4,-3,-2,-1,0], "tickSize": -2.5, "labels": false, "domain": false, "title": null}},
    "y": {"datum": 2.28, "type": "quantitative", "scale": {"domain": [-0.66, 3.7], "nice": false, "zero": false}, "axis": {"orient": "right", "values": [-0.6,-0.4,-0.2,0,0.2,0.4,0.6,0.8,1,1.2,1.4,1.6,1.8,2,2.2,2.4,2.6,2.8,3,3.2,3.4,3.6], "tickSize": -2.5, "labels": false, "domain": false, "title": null}}}}
 ],
 "resolve": {"axis": {"x": "independent", "y": "independent"}}
}
]
}
